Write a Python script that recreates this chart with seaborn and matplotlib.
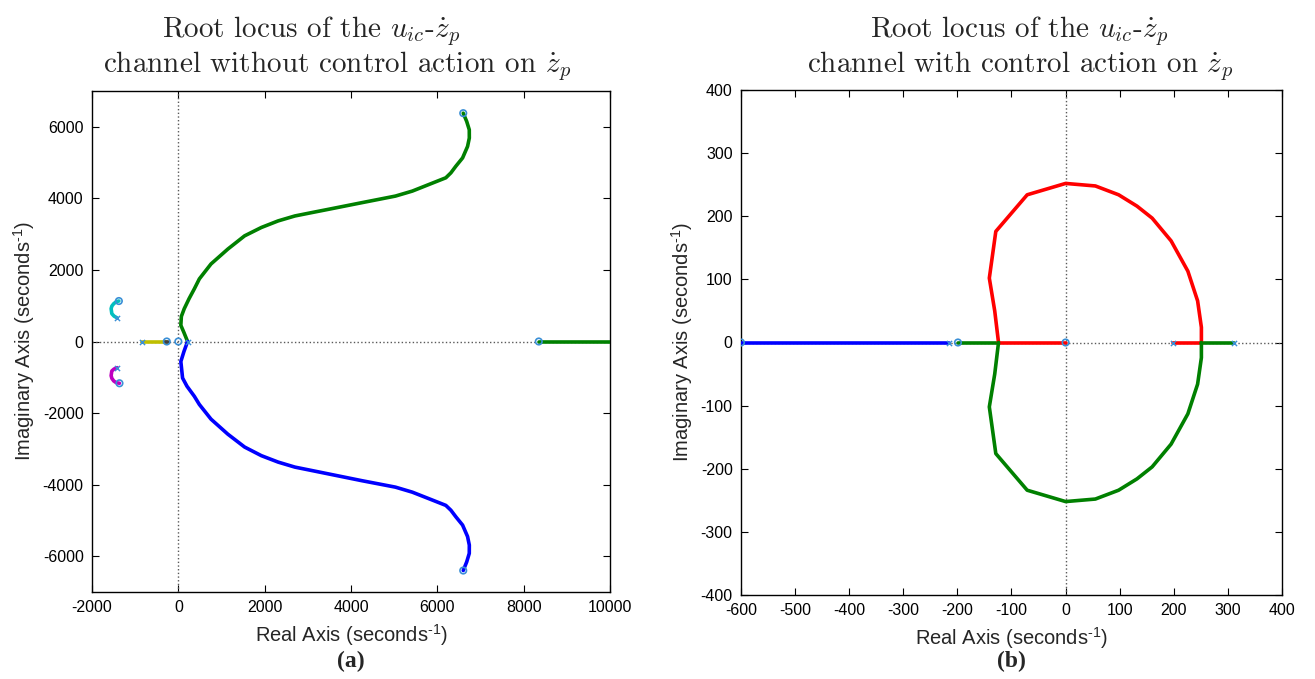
import numpy as np
import pandas as pd
import matplotlib
matplotlib.use("Agg")
import matplotlib.pyplot as plt
import seaborn as sns

sns.set_style("ticks")
plt.rcParams["font.family"] = ["Liberation Sans", "DejaVu Sans"]
plt.rcParams["axes.unicode_minus"] = False
plt.rcParams["mathtext.fontset"] = "custom"
plt.rcParams["mathtext.rm"] = "Liberation Sans"
plt.rcParams["mathtext.it"] = "Liberation Sans:italic"

# ---------------- Panel (a) data : without control action ----------------
a_green_up_x = [214, 130, 58, 70, 137, 250, 370, 487, 757, 1147, 1536, 1923, 2312, 2700,
                3090, 3478, 4254, 4643, 5030, 5420, 5810, 6197, 6314, 6430, 6585, 6700,
                6741, 6740, 6680, 6600]
a_green_up_y = [0, 250, 453, 700, 917, 1200, 1470, 1750, 2167, 2583, 2953, 3186, 3370, 3508,
                3602, 3694, 3880, 3972, 4064, 4203, 4390, 4575, 4713, 4900, 5130, 5450,
                5686, 5917, 6150, 6380]
a_blue_dn_x = [214, 130, 58, 98, 200, 370, 487, 757, 1147, 1536, 1923, 2312, 2700,
               3090, 3478, 4254, 4643, 5030, 5420, 5810, 6197, 6314, 6430, 6585, 6700,
               6741, 6740, 6680, 6600]
a_blue_dn_y = [0, -280, -560, -1020, -1250, -1530, -1760, -2170, -2590, -2950, -3190, -3370,
               -3510, -3605, -3700, -3890, -3980, -4070, -4210, -4395, -4580, -4715, -4900,
               -5130, -5450, -5690, -5920, -6160, -6400]
a_green_axis_x = [8350, 11000]
a_green_axis_y = [0, 0]
a_cyan_x = [-1378, -1440, -1497, -1540, -1557, -1541, -1490, -1417]
a_cyan_y = [1131, 1110, 1056, 990, 917, 778, 710, 658]
a_magenta_x = [-1417, -1490, -1541, -1557, -1540, -1497, -1440, -1364]
a_magenta_y = [-731, -770, -824, -954, -1030, -1102, -1150, -1167]
a_yellow_x = [-835, -268]
a_yellow_y = [0, 0]
a_gray_x = [-300, -230]
a_gray_y = [0, 0]
a_zero_x = [6600, 6600, 8350, -1378, -1364, -268, 0]
a_zero_y = [6380, -6400, 0, 1131, -1167, 0, 0]
a_pole_x = [214, -835, -1417, -1417]
a_pole_y = [0, 0, 658, -731]

# ---------------- Panel (b) data : with control action ----------------
b_blue_x = [-600, -216]
b_blue_y = [0, 0]
b_green_axis_l_x = [-199, -124]
b_green_axis_l_y = [0, 0]
b_red_axis_l_x = [-124, 0]
b_red_axis_l_y = [0, 0]
b_red_axis_r_x = [199, 251]
b_red_axis_r_y = [0, 0]
b_green_axis_r_x = [251, 312]
b_green_axis_r_y = [0, 0]
b_red_up_x = [-124, -131, -141, -129, -71, 0, 55, 98, 132, 160, 195, 226, 244, 251, 251]
b_red_up_y = [0, 50, 102, 176, 234, 252, 248, 234, 216, 197, 161, 113, 66, 24, 0]
b_green_dn_x = [-124, -131, -141, -129, -71, 0, 55, 98, 132, 160, 195, 226, 244, 251, 251]
b_green_dn_y = [0, -50, -102, -176, -234, -252, -248, -234, -216, -197, -161, -113, -66, -24, 0]
b_zero_x = [-600, -199, 0]
b_zero_y = [0, 0, 0]
b_pole_x = [-216, 199, 312]
b_pole_y = [0, 0, 0]

C_BLUE = (0, 0, 1)
C_GREEN = (0, 0.5, 0)
C_RED = (1, 0, 0)
C_CYAN = (0, 0.75, 0.75)
C_MAG = (0.75, 0, 0.75)
C_YEL = (0.75, 0.75, 0)
C_GRAY = (0.25, 0.25, 0.25)
C_MARK = "#3a8fd6"
LW = 2.6

W, H = 1315, 679
fig = plt.figure(figsize=(W / 100, H / 100), dpi=100)
ax1 = fig.add_axes([92 / W, 1 - 592 / H, (610 - 92) / W, (592 - 91) / H])
ax2 = fig.add_axes([741 / W, 1 - 595 / H, (1282 - 741) / W, (595 - 90) / H])


def line(ax, xs, ys, color):
    df = pd.DataFrame({"x": xs, "y": ys})
    sns.lineplot(data=df, x="x", y="y", sort=False, estimator=None, color=color,
                 lw=LW, ax=ax, zorder=3)


def marks(ax, xs, ys, marker):
    df = pd.DataFrame({"x": xs, "y": ys})
    if marker == "o":
        sns.scatterplot(data=df, x="x", y="y", marker="o", s=22, facecolor="none",
                        edgecolor=C_MARK, linewidth=1.2, ax=ax, zorder=5)
    else:
        sns.scatterplot(data=df, x="x", y="y", marker="x", s=14, color=C_MARK,
                        linewidth=1.0, ax=ax, zorder=5)


for ax in (ax1, ax2):
    ax.axhline(0, ls=":", color="0.35", lw=1.0, zorder=1)
    ax.axvline(0, ls=":", color="0.35", lw=1.0, zorder=1)

# panel (a)
line(ax1, a_green_up_x, a_green_up_y, C_GREEN)
line(ax1, a_blue_dn_x, a_blue_dn_y, C_BLUE)
line(ax1, a_green_axis_x, a_green_axis_y, C_GREEN)
line(ax1, a_cyan_x, a_cyan_y, C_CYAN)
line(ax1, a_magenta_x, a_magenta_y, C_MAG)
line(ax1, a_yellow_x, a_yellow_y, C_YEL)
line(ax1, a_gray_x, a_gray_y, C_GRAY)
marks(ax1, a_zero_x, a_zero_y, "o")
marks(ax1, a_pole_x, a_pole_y, "x")

# panel (b)
line(ax2, b_blue_x, b_blue_y, C_BLUE)
line(ax2, b_green_axis_l_x, b_green_axis_l_y, C_GREEN)
line(ax2, b_red_axis_l_x, b_red_axis_l_y, C_RED)
line(ax2, b_red_axis_r_x, b_red_axis_r_y, C_RED)
line(ax2, b_green_axis_r_x, b_green_axis_r_y, C_GREEN)
line(ax2, b_red_up_x, b_red_up_y, C_RED)
line(ax2, b_green_dn_x, b_green_dn_y, C_GREEN)
marks(ax2, b_zero_x, b_zero_y, "o")
marks(ax2, b_pole_x, b_pole_y, "x")

ax1.set_xlim(-2000, 10000)
ax1.set_ylim(-7000, 7000)
ax1.set_xticks(np.arange(-2000, 10001, 2000))
ax1.set_yticks(np.arange(-6000, 6001, 2000))
ax2.set_xlim(-600, 400)
ax2.set_ylim(-400, 400)
ax2.set_xticks(np.arange(-600, 401, 100))
ax2.set_yticks(np.arange(-400, 401, 100))

title_line1 = "Root locus of the $u_{ic}$-$\\dot{z}_p$"
title_line2 = ["channel without control action on $\\dot{z}_p$",
               "channel with control action on $\\dot{z}_p$"]
title_x1 = [312, 1020]
title_x2 = [337, 1020]
SUP = "$^{\u2010\\mathrm{1}}$"
for i, (ax, tag) in enumerate(zip((ax1, ax2), ("(a)", "(b)"))):
    for s in ax.spines.values():
        s.set_visible(True)
        s.set_linewidth(1.0)
        s.set_color("black")
    ax.tick_params(direction="in", top=True, right=True, length=5, width=0.8,
                   labelsize=11.5, colors="black", pad=6)
    ax.set_xlabel("Real Axis (seconds" + SUP + ")", fontsize=14.5, labelpad=5)
    ax.set_ylabel("Imaginary Axis (seconds" + SUP + ")", fontsize=14.5, labelpad=4)
    fig.text(title_x1[i] / W, 1 - 37 / H, title_line1, ha="center", va="baseline",
             fontsize=21, family="cmr10", math_fontfamily="cm")
    fig.text(title_x2[i] / W, 1 - 72 / H, title_line2[i], ha="center", va="baseline",
             fontsize=21, family="cmr10", math_fontfamily="cm")
    pos = ax.get_position()
    fig.text(pos.x0 + pos.width / 2, 1 - 661 / H, tag, ha="center", va="center",
             family="Liberation Serif", fontweight="bold", fontsize=17)

fig.savefig("out.png", dpi=100)
